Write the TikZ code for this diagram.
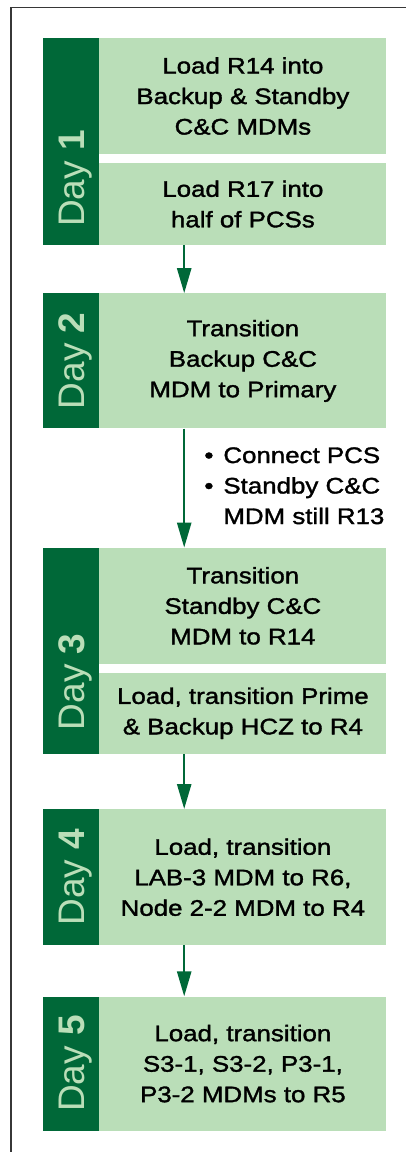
\documentclass[tikz,border=0pt]{standalone}
\usepackage{fontspec}
\setmainfont{Liberation Sans}
\newfontfamily\boxfont{Liberation Sans}[FakeStretch=1.15, FakeBold=1.5]
\usepackage{xcolor}
\usepackage{tikz}
\usetikzlibrary{arrows.meta,positioning}
\definecolor{dayDark}{RGB}{0,104,56}
\definecolor{dayLight}{RGB}{186,222,184}
\definecolor{frameGray}{RGB}{55,55,55}
\newcommand{\notebul}{\makebox[19pt][l]{\textbullet}}

\begin{document}
\begin{tikzpicture}[x=1pt, y=1pt,
    daybar/.style={fill=dayDark, minimum width=56pt, inner sep=0pt},
    daylabel/.style={rotate=90, text=dayLight, inner sep=0pt,
      font=\fontsize{37}{37}\selectfont},
    stepbox/.style={fill=dayLight, minimum width=287pt, inner sep=0pt,
      align=center, font=\boxfont\fontsize{22.5}{30.5}\selectfont},
    notetext/.style={align=left, inner sep=0pt,
      font=\boxfont\fontsize{22.5}{30.5}\selectfont},
    flow/.style={dayDark, line width=2.5pt, -{Triangle[length=25pt, width=14pt]}}]
  \useasboundingbox (0,0) rectangle (406,-1152);
  % page frame, cut off at right and bottom
  \draw[frameGray, line width=1.5pt] (11,-1152) -- (11,-7.5) -- (406,-7.5);

  % day 1: two steps
  \node[daybar, minimum height=207pt] (d1) at (71,-141.5) {};
  \node[daylabel] (l1) at ([xshift=4.5pt, yshift=-37pt]d1.center) {Day \textbf{1}};
  \node[stepbox, minimum height=116pt, anchor=north west] (s1a) at (d1.north east)
    {Load R14 into\\Backup \& Standby\\C\&C MDMs};
  \node[stepbox, minimum height=82pt, anchor=south west] (s1b) at (d1.south east)
    {Load R17 into\\half of PCSs};

  % day 2
  \node[daybar, minimum height=135pt, below=48pt of d1] (d2) {};
  \node[daylabel] (l2) at ([xshift=4.5pt]d2.center) {Day \textbf{2}};
  \node[stepbox, minimum height=135pt, right=0pt of d2] (s2)
    {Transition\\Backup C\&C\\MDM to Primary};

  % day 3: two steps
  \node[daybar, minimum height=206pt, below=119pt of d2] (d3) {};
  \node[daylabel] (l3) at ([xshift=4.5pt, yshift=-31pt]d3.center) {Day \textbf{3}};
  \node[stepbox, minimum height=116pt, anchor=north west] (s3a) at (d3.north east)
    {Transition\\Standby C\&C\\MDM to R14};
  \node[stepbox, minimum height=81pt, anchor=south west] (s3b) at (d3.south east)
    {Load, transition Prime\\\& Backup HCZ to R4};

  % day 4
  \node[daybar, minimum height=136pt, below=55pt of d3] (d4) {};
  \node[daylabel] (l4) at ([xshift=4.5pt]d4.center) {Day \textbf{4}};
  \node[stepbox, minimum height=136pt, right=0pt of d4] (s4)
    {Load, transition\\LAB-3 MDM to R6,\\Node 2-2 MDM to R4};

  % day 5
  \node[daybar, minimum height=134pt, below=51pt of d4] (d5) {};
  \node[daylabel] (l5) at ([xshift=4.5pt]d5.center) {Day \textbf{5}};
  \node[stepbox, minimum height=134pt, right=0pt of d5] (s5)
    {Load, transition\\S3-1, S3-2, P3-1,\\P3-2 MDMs to R5};

  % arrows between days
  \draw[flow] ([xshift=85pt]s1b.south west) -- ([xshift=85pt]s2.north west);
  \draw[flow] ([xshift=85pt]s2.south west) coordinate (a2)
    -- ([xshift=85pt]s3a.north west);
  \draw[flow] ([xshift=85pt]s3b.south west) -- ([xshift=85pt]s4.north west);
  \draw[flow] ([xshift=85pt]s4.south west) -- ([xshift=85pt]s5.north west);

  \node[notetext, anchor=north west] (n2) at ([shift={(20pt,-18.5pt)}]a2)
    {\notebul Connect PCS\\\notebul Standby C\&C\\\hspace*{19pt}MDM still R13};
\end{tikzpicture}
\end{document}
